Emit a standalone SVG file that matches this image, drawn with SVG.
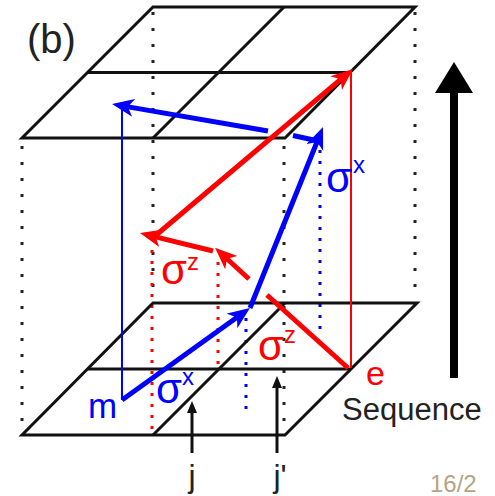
<svg xmlns="http://www.w3.org/2000/svg" width="495" height="496" viewBox="0 0 495 496">
<style>
.pl{fill:none;stroke:#111;stroke-width:3;stroke-linejoin:miter}
.dk{stroke:#222;stroke-width:3;stroke-dasharray:3 13;fill:none}
.dr{stroke:#f00;stroke-width:3;stroke-dasharray:3 8;fill:none}
.db{stroke:#00f;stroke-width:3;stroke-dasharray:3 8;fill:none}
.rt{stroke:#f00;stroke-width:5;fill:none}
.bt{stroke:#00f;stroke-width:5;fill:none}
.txt{font-family:"Liberation Sans",Arial,sans-serif}
.r{fill:#f00}.b{fill:#00f}.k{fill:#222}
</style>
<defs>
<marker id="ar" markerUnits="userSpaceOnUse" markerWidth="24" markerHeight="20" refX="7" refY="9" orient="auto"><path d="M0,0 L22,9 L0,18 L6,9 z" fill="#f00"/></marker>
<marker id="ab" markerUnits="userSpaceOnUse" markerWidth="24" markerHeight="20" refX="7" refY="9" orient="auto"><path d="M0,0 L22,9 L0,18 L6,9 z" fill="#00f"/></marker>
<marker id="ak" markerUnits="userSpaceOnUse" markerWidth="14" markerHeight="12" refX="4" refY="5" orient="auto"><path d="M0,0 L12,5 L0,10 z" fill="#111"/></marker>
</defs>
<g id="dotted">
<line class="dk" x1="22" y1="146" x2="22" y2="430"/>
<line class="dk" x1="153" y1="12" x2="153" y2="300"/>
<line class="dk" x1="284" y1="146" x2="284" y2="430"/>
<line class="dk" x1="415" y1="12" x2="415" y2="300"/>
<line class="dr" x1="152" y1="250" x2="152" y2="436"/>
<line class="dr" x1="218" y1="262" x2="218" y2="369"/>
<line class="db" x1="320" y1="150" x2="320" y2="336"/>
<line class="db" x1="246" y1="318" x2="246" y2="409"/>
</g>
<g id="plane-top">
<polygon class="pl" points="153,7 415,7 285,138 22,138"/>
<line class="pl" x1="88" y1="72.5" x2="350" y2="72.5"/>
<line class="pl" x1="153" y1="138" x2="284" y2="7"/>
</g>
<g id="plane-bottom">
<polygon class="pl" points="153,303 417,303 285,435 22,435"/>
<line class="pl" x1="88" y1="369" x2="350" y2="369"/>
<line class="pl" x1="153" y1="435" x2="285" y2="303"/>
</g>
<g id="connectors">
<line x1="122" y1="106" x2="122" y2="400" stroke="#00f" stroke-width="2"/>
<line x1="351" y1="70" x2="351" y2="368" stroke="#f00" stroke-width="2"/>
<line class="bt" x1="316" y1="140.5" x2="293" y2="135.5"/>
<line class="bt" x1="268" y1="131" x2="126.8" y2="106.6" marker-end="url(#ab)"/>
<line class="bt" x1="122" y1="400" x2="237.8" y2="316.8" marker-end="url(#ab)"/>
<line class="bt" x1="250" y1="308" x2="317.4" y2="141" marker-end="url(#ab)"/>
<line class="rt" x1="348" y1="368" x2="267" y2="295"/>
<line class="rt" x1="249" y1="279" x2="226.1" y2="258" marker-end="url(#ar)"/>
<line class="rt" x1="213" y1="251" x2="154.6" y2="236.6" marker-end="url(#ar)"/>
<line class="rt" x1="155" y1="236" x2="341.5" y2="78.7" marker-end="url(#ar)"/>
<line x1="192" y1="453" x2="192" y2="409" stroke="#111" stroke-width="3" marker-end="url(#ak)"/>
<line x1="277" y1="453" x2="277" y2="384" stroke="#111" stroke-width="3" marker-end="url(#ak)"/>
</g>
<g id="sequence-arrow">
<rect x="450" y="90" width="8" height="288" fill="#000"/>
<polygon points="435,93 473,93 454,62" fill="#000"/>
</g>
<g id="labels" class="txt">
<text x="27" y="53" font-size="40" class="k">(b)</text>
<text x="342" y="420" font-size="31" class="k">Sequence</text>
<text x="366" y="385" font-size="34" class="r">e</text>
<text x="88" y="418" font-size="35" class="b">m</text>
<text x="326" y="192" font-size="42" class="b">σ<tspan x="353" y="173" font-size="24">x</tspan></text>
<text x="156" y="403" font-size="42" class="b">σ<tspan x="182" y="385" font-size="24">x</tspan></text>
<text x="161" y="284" font-size="42" class="r">σ<tspan x="187" y="270" font-size="24">z</tspan></text>
<text x="258" y="360" font-size="42" class="r">σ<tspan x="284" y="343" font-size="24">z</tspan></text>
<text x="188.5" y="487" font-size="32" class="k">j</text>
<text x="273.5" y="487" font-size="32" class="k">j'</text>
<text x="430" y="492" font-size="24" fill="#b3a584">16/2</text>
</g>
</svg>
